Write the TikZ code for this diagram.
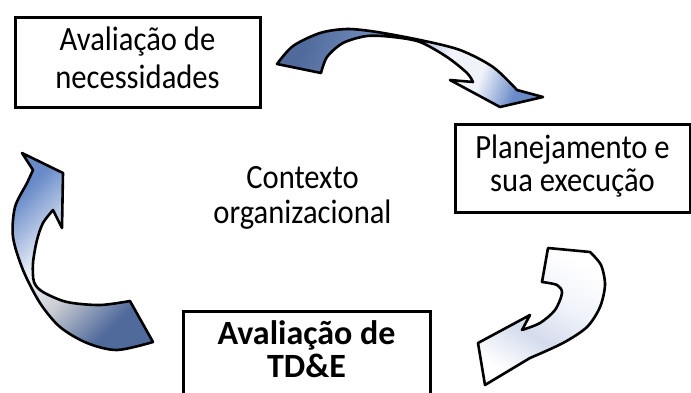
\documentclass[tikz,border=0pt]{standalone}
\usepackage{fontspec}
\setmainfont{Carlito}[FakeStretch=0.9]
\newfontfamily\boldfam{Carlito}
\definecolor{ablue}{RGB}{80,106,156}
\definecolor{mblue}{RGB}{120,146,192}
\definecolor{lblue}{RGB}{104,138,200}
\definecolor{pale}{RGB}{240,243,250}
\definecolor{paleb}{RGB}{212,220,236}
\definecolor{greyish}{RGB}{200,203,210}
\pgfdeclarehorizontalshading{topshade}{100bp}{color(0bp)=(ablue); color(25bp)=(ablue); color(42bp)=(mblue); color(58bp)=(pale); color(66bp)=(pale); color(75bp)=(lblue); color(100bp)=(lblue)}
\pgfdeclareverticalshading{leftshade}{100bp}{color(0bp)=(ablue); color(28bp)=(ablue); color(44bp)=(greyish); color(56bp)=(pale); color(75bp)=(lblue); color(100bp)=(lblue)}
\pgfdeclareverticalshading{rightshade}{100bp}{color(0bp)=(white); color(25bp)=(white); color(42bp)=(paleb); color(58bp)=(pale); color(75bp)=(white); color(100bp)=(white)}
\tikzset{
  box/.style={draw=black, line width=3pt, fill=white,
    inner sep=0pt, font=\fontsize{34}{38}\selectfont},
  blockarrow/.style={draw=black, line width=2.6pt, line join=round},
}
\begin{document}
\begin{tikzpicture}[x=1pt,y=-1pt]
\useasboundingbox (0,0) rectangle (691,392);
\clip (0,0) rectangle (691,392);
\fill[white] (0,0) rectangle (691,392);

% top arrow
\path[blockarrow, shading=topshade, shading angle=-20]
  (277,64) -- (321,73)
  -- plot[smooth] coordinates {(321,73) (327,57) (343,43) (367,36) (393,37) (420,42) (447,57) (467,73) (473,82)}
  -- (450,80) -- (500,107) -- (543,97) -- (517,90)
  -- plot[smooth] coordinates {(517,90) (493,67) (460,50) (420,40) (377,32) (347,29) (320,33) (293,46) (277,64)}
  -- cycle;

% left arrow
\path[blockarrow, shading=leftshade, shading angle=45]
  (22,153) -- (63,173) -- (62,228) -- (53,210)
  -- plot[smooth] coordinates {(53,210) (43,223) (37,240) (33,263) (34,282) (43,292) (67,302) (100,305) (130,301)}
  -- (153,342)
  -- plot[smooth] coordinates {(153,342) (117,350) (87,343) (60,327) (40,303) (23,270) (13,237) (15,207) (27,183) (33,170)}
  -- cycle;

% bottom-right arrow
\path[blockarrow, shading=rightshade, shading angle=-30]
  (548,248) -- (590,252)
  -- plot[smooth] coordinates {(590,252) (601,265) (605,285) (600,307) (587,327) (563,343) (530,358)}
  -- (485,385) -- (478,343) -- (530,315) -- (522,330)
  -- plot[smooth] coordinates {(522,330) (540,323) (555,310) (562,293) (557,285) (542,282)}
  -- cycle;

% boxes
\node[box, minimum width=245pt, minimum height=90pt] (need) at (137.5,62)
  {\raisebox{-4pt}{\begin{tabular}{@{}c@{}}Avaliação de\\necessidades\end{tabular}}};
\node[box, minimum width=235pt, minimum height=88pt, font=\fontsize{34}{32}\selectfont] (plan) at (572.5,168)
  {\raisebox{-2pt}{\begin{tabular}{@{}c@{}}Planejamento e\\sua execução\end{tabular}}};
\node[box, minimum width=247pt, minimum height=86pt, font=\fontsize{34}{33}\selectfont\boldfam\bfseries] (eval) at (306.5,354)
  {\raisebox{6pt}{\begin{tabular}{@{}c@{}}Avaliação de\\TD\&E\end{tabular}}};

\node[inner sep=0pt, font=\fontsize{34}{35}\selectfont] (ctx) at (302.5,199)
  {\begin{tabular}{@{}c@{}}Contexto\\organizacional\end{tabular}};
\end{tikzpicture}
\end{document}
